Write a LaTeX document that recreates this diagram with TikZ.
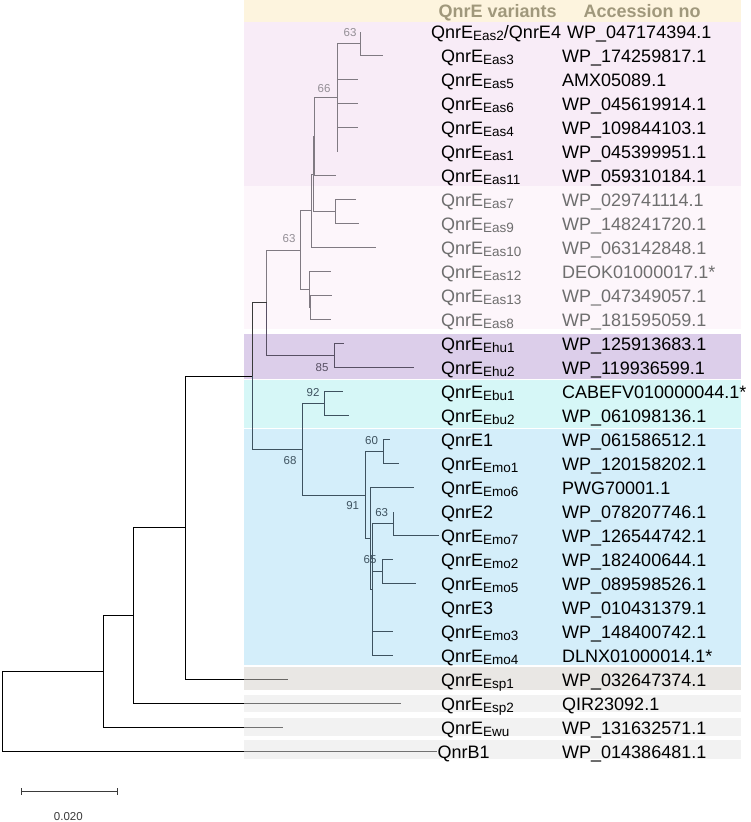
\documentclass[tikz,border=0pt]{standalone}
\usepackage{fontspec}
\setmainfont{Liberation Sans}
\newlength{\du}
\setlength{\du}{1pt}
\newcommand{\sbs}[1]{\raisebox{-2pt}{\fontsize{13.5}{14}\selectfont #1}}
\definecolor{hdrfill}{RGB}{253,244,222}
\definecolor{easfill}{RGB}{248,236,247}
\definecolor{easlight}{RGB}{253,246,251}
\definecolor{ehufill}{RGB}{220,206,234}
\definecolor{ebufill}{RGB}{214,247,247}
\definecolor{emofill}{RGB}{212,238,250}
\definecolor{espover}{RGB}{211,207,201}
\definecolor{outover}{RGB}{229,229,229}
\definecolor{hdrtext}{RGB}{160,152,124}
\definecolor{taxgray}{RGB}{110,110,110}
\definecolor{easline}{RGB}{128,122,130}
\definecolor{ehuline}{RGB}{88,80,100}
\definecolor{emoline}{RGB}{62,82,95}
\definecolor{midline}{RGB}{58,58,58}
\tikzset{
  lbl/.style={anchor=base west, inner sep=0pt, font=\fontsize{18}{20}\selectfont},
  lblgray/.style={lbl, text=taxgray},
  hdr/.style={anchor=base west, inner sep=0pt, text=hdrtext, font=\fontsize{18}{20}\selectfont\bfseries},
  boot/.style={inner sep=0pt, font=\fontsize{11.5}{12}\selectfont},
  br/.style={line width=0.9\du},
  easbr/.style={br, draw=easline},
  ehubr/.style={br, draw=ehuline},
  emobr/.style={br, draw=emoline},
  overband/.style={fill opacity=0.5},
}
\begin{document}
\begin{tikzpicture}
\pgftransformxscale{1.000000}
\pgftransformyscale{-1.000000}
\useasboundingbox (0\du,0\du) rectangle (750\du,822\du);
% bands
\fill[hdrfill] (244\du,0\du) rectangle (741\du,22\du);
\fill[easfill] (244\du,22\du) rectangle (741\du,185.5\du);
\fill[easlight] (244\du,185.5\du) rectangle (741\du,328.5\du);
\fill[ehufill] (244\du,334\du) rectangle (741\du,378.5\du);
\fill[ebufill] (244\du,380\du) rectangle (741\du,428\du);
\fill[emofill] (244\du,429\du) rectangle (741\du,665\du);
% tips
\coordinate (t-eas2) at (360\du,31.5\du);
\coordinate (t-eas3) at (383\du,55.5\du);
\coordinate (t-eas5) at (358\du,79.5\du);
\coordinate (t-eas6) at (358\du,103.5\du);
\coordinate (t-eas4) at (358\du,127.5\du);
\coordinate (t-eas1) at (337\du,151.5\du);
\coordinate (t-eas11) at (336\du,175.5\du);
\coordinate (t-eas7) at (356\du,199.5\du);
\coordinate (t-eas9) at (359\du,223.5\du);
\coordinate (t-eas10) at (376\du,247.5\du);
\coordinate (t-eas12) at (331\du,271.5\du);
\coordinate (t-eas13) at (332\du,295.5\du);
\coordinate (t-eas8) at (331\du,319.5\du);
\coordinate (t-ehu1) at (344\du,343.5\du);
\coordinate (t-ehu2) at (414\du,367.5\du);
\coordinate (t-ebu1) at (343\du,391.5\du);
\coordinate (t-ebu2) at (349\du,415.5\du);
\coordinate (t-e1) at (390\du,439.5\du);
\coordinate (t-emo1) at (399\du,463.5\du);
\coordinate (t-emo6) at (414\du,487.5\du);
\coordinate (t-e2) at (393.3\du,511.5\du);
\coordinate (t-emo7) at (439\du,535.5\du);
\coordinate (t-emo2) at (393\du,559.5\du);
\coordinate (t-emo5) at (416\du,583.5\du);
\coordinate (t-e3) at (372.5\du,607.5\du);
\coordinate (t-emo3) at (393\du,631.5\du);
\coordinate (t-emo4) at (393\du,655.5\du);
\coordinate (t-esp1) at (288\du,679.5\du);
\coordinate (t-esp2) at (401\du,703.5\du);
\coordinate (t-ewu) at (283\du,727.5\du);
\coordinate (t-qnrb1) at (437\du,751.5\du);
% inner nodes
\coordinate (n63a) at (360\du,43.5\du);
\coordinate (n66) at (337\du,97.5\du);
\coordinate (nE) at (314\du,136.5\du);
\coordinate (n79) at (335\du,211.5\du);
\coordinate (nA) at (313\du,174\du);
\coordinate (nC) at (311.7\du,210.75\du);
\coordinate (nG) at (310.5\du,307.5\du);
\coordinate (nF) at (309.3\du,289.5\du);
\coordinate (n63b) at (300.7\du,250.1\du);
\coordinate (n85) at (334.3\du,355.5\du);
\coordinate (nH) at (266.7\du,302.8\du);
\coordinate (n92) at (324.7\du,403.5\du);
\coordinate (n60) at (383.7\du,451.5\du);
\coordinate (n63c) at (393.3\du,523.5\du);
\coordinate (n65) at (382.3\du,571.5\du);
\coordinate (nK) at (372.5\du,589.5\du);
\coordinate (nJ) at (370\du,538.5\du);
\coordinate (n91) at (365.7\du,495\du);
\coordinate (n68) at (302.3\du,449.25\du);
\coordinate (nI) at (252.3\du,376\du);
\coordinate (n185) at (185\du,527.75\du);
\coordinate (n133) at (133\du,615.6\du);
\coordinate (n103) at (103\du,671.6\du);
\coordinate (root) at (2\du,711.5\du);
% Eas clade
\draw[easbr] (n63a) |- (t-eas2);
\draw[easbr] (n63a) |- (t-eas3);
\draw[easbr] (n66) |- (n63a);
\draw[easbr] (n66) |- (t-eas5);
\draw[easbr] (n66) |- (t-eas6);
\draw[easbr] (n66) |- (t-eas4);
\draw[easbr] (n66) |- (t-eas1);
\draw[easbr] (nE) |- (n66);
\draw[easbr] (nE) |- (t-eas11);
\draw[easbr] (n79) |- (t-eas7);
\draw[easbr] (n79) |- (t-eas9);
\draw[easbr] (nA) |- (nE);
\draw[easbr] (nA) |- (n79);
\draw[easbr] (nC) |- (nA);
\draw[easbr] (nC) |- (t-eas10);
\draw[easbr] (nG) |- (t-eas13);
\draw[easbr] (nG) |- (t-eas8);
\draw[easbr] (nF) |- (t-eas12);
\draw[easbr] (nF) |- (nG);
\draw[easbr] (n63b) |- (nC);
\draw[easbr] (n63b) |- (nF);
\draw[easbr] (nH) |- (n63b);
% Ehu clade
\draw[ehubr] (n85) |- (t-ehu1);
\draw[ehubr] (n85) |- (t-ehu2);
\draw[ehubr] (nH) |- (n85);
% Ebu and Emo clades
\draw[emobr] (n92) |- (t-ebu1);
\draw[emobr] (n92) |- (t-ebu2);
\draw[emobr] (n60) |- (t-e1);
\draw[emobr] (n60) |- (t-emo1);
\draw[emobr] (n63c) |- (t-e2);
\draw[emobr] (n63c) |- (t-emo7);
\draw[emobr] (n65) |- (t-emo2);
\draw[emobr] (n65) |- (t-emo5);
\draw[emobr] (nK) |- (n63c);
\draw[emobr] (nK) |- (n65);
\draw[emobr] (nK) |- (t-e3);
\draw[emobr] (nK) |- (t-emo3);
\draw[emobr] (nK) |- (t-emo4);
\draw[emobr] (nJ) |- (t-emo6);
\draw[emobr] (nJ) |- (nK);
\draw[emobr] (n91) |- (n60);
\draw[emobr] (n91) |- (nJ);
\draw[emobr] (n68) |- (n92);
\draw[emobr] (n68) |- (n91);
\draw[emobr] (nI) |- (n68);
\draw[br, draw=midline] (nI) |- (nH);
% backbone
\draw[br] (n185) |- (nI);
\draw[br] (n185) |- (t-esp1);
\draw[br] (n133) |- (n185);
\draw[br] (n133) |- (t-esp2);
\draw[br] (n103) |- (n133);
\draw[br] (n103) |- (t-ewu);
\draw[br] (root) |- (n103);
\draw[br] (root) |- (t-qnrb1);
% outgroup bands, laid over the branches
\fill[espover, overband] (244\du,666.5\du) rectangle (741\du,689.5\du);
\fill[outover, overband] (244\du,694.5\du) rectangle (741\du,712\du);
\fill[outover, overband] (244\du,717.5\du) rectangle (741\du,735.5\du);
\fill[outover, overband] (244\du,740\du) rectangle (741\du,759\du);
% bootstrap values
\node[boot, text=easline!85] (b63a) at (350\du,32.5\du) {63};
\node[boot, text=easline!85] (b66) at (324\du,89\du) {66};
\node[boot, text=easline!85] (b63b) at (289\du,239\du) {63};
\node[boot, text=ehuline] (b85) at (322\du,368\du) {85};
\node[boot, text=emoline] (b92) at (313\du,393\du) {92};
\node[boot, text=emoline] (b68) at (290\du,461\du) {68};
\node[boot, text=emoline] (b60) at (371.5\du,441\du) {60};
\node[boot, text=emoline] (b91) at (352.7\du,506\du) {91};
\node[boot, text=emoline] (b63c) at (381.7\du,513\du) {63};
\node[boot, text=emoline] (b65) at (370\du,560\du) {65};
% header
\node[hdr] (h-var) at (438.3\du,17\du) {QnrE variants};
\node[hdr] (h-acc) at (583.3\du,17\du) {Accession no};
% variants
\node[lbl] (v-eas2) at (431\du,38.5\du) {QnrE\sbs{Eas2}/QnrE4};
\node[lbl] (v-eas3) at (441\du,62.5\du) {QnrE\sbs{Eas3}};
\node[lbl] (v-eas5) at (441\du,86.5\du) {QnrE\sbs{Eas5}};
\node[lbl] (v-eas6) at (441\du,110.5\du) {QnrE\sbs{Eas6}};
\node[lbl] (v-eas4) at (441\du,134.5\du) {QnrE\sbs{Eas4}};
\node[lbl] (v-eas1) at (441\du,158.5\du) {QnrE\sbs{Eas1}};
\node[lbl] (v-eas11) at (441\du,182.5\du) {QnrE\sbs{Eas11}};
\node[lblgray] (v-eas7) at (441\du,206.5\du) {QnrE\sbs{Eas7}};
\node[lblgray] (v-eas9) at (441\du,230.5\du) {QnrE\sbs{Eas9}};
\node[lblgray] (v-eas10) at (441\du,254.5\du) {QnrE\sbs{Eas10}};
\node[lblgray] (v-eas12) at (441\du,278.5\du) {QnrE\sbs{Eas12}};
\node[lblgray] (v-eas13) at (441\du,302.5\du) {QnrE\sbs{Eas13}};
\node[lblgray] (v-eas8) at (441\du,326.5\du) {QnrE\sbs{Eas8}};
\node[lbl] (v-ehu1) at (441\du,350.5\du) {QnrE\sbs{Ehu1}};
\node[lbl] (v-ehu2) at (441\du,374.5\du) {QnrE\sbs{Ehu2}};
\node[lbl] (v-ebu1) at (441\du,398.5\du) {QnrE\sbs{Ebu1}};
\node[lbl] (v-ebu2) at (441\du,422.5\du) {QnrE\sbs{Ebu2}};
\node[lbl] (v-e1) at (441\du,446.5\du) {QnrE1};
\node[lbl] (v-emo1) at (441\du,470.5\du) {QnrE\sbs{Emo1}};
\node[lbl] (v-emo6) at (441\du,494.5\du) {QnrE\sbs{Emo6}};
\node[lbl] (v-e2) at (441\du,518.5\du) {QnrE2};
\node[lbl] (v-emo7) at (441\du,542.5\du) {QnrE\sbs{Emo7}};
\node[lbl] (v-emo2) at (441\du,566.5\du) {QnrE\sbs{Emo2}};
\node[lbl] (v-emo5) at (441\du,590.5\du) {QnrE\sbs{Emo5}};
\node[lbl] (v-e3) at (441\du,614.5\du) {QnrE3};
\node[lbl] (v-emo3) at (441\du,638.5\du) {QnrE\sbs{Emo3}};
\node[lbl] (v-emo4) at (441\du,662.5\du) {QnrE\sbs{Emo4}};
\node[lbl] (v-esp1) at (441\du,686.5\du) {QnrE\sbs{Esp1}};
\node[lbl] (v-esp2) at (441\du,710.5\du) {QnrE\sbs{Esp2}};
\node[lbl] (v-ewu) at (441\du,734.5\du) {QnrE\sbs{Ewu}};
\node[lbl] (v-qnrb1) at (437.5\du,758.5\du) {QnrB1};
% accession numbers
\node[lbl] (a-eas2) at (567\du,38.5\du) {WP\_047174394.1};
\node[lbl] (a-eas3) at (562\du,62.5\du) {WP\_174259817.1};
\node[lbl] (a-eas5) at (562\du,86.5\du) {AMX05089.1};
\node[lbl] (a-eas6) at (562\du,110.5\du) {WP\_045619914.1};
\node[lbl] (a-eas4) at (562\du,134.5\du) {WP\_109844103.1};
\node[lbl] (a-eas1) at (562\du,158.5\du) {WP\_045399951.1};
\node[lbl] (a-eas11) at (562\du,182.5\du) {WP\_059310184.1};
\node[lblgray] (a-eas7) at (562\du,206.5\du) {WP\_029741114.1};
\node[lblgray] (a-eas9) at (562\du,230.5\du) {WP\_148241720.1};
\node[lblgray] (a-eas10) at (562\du,254.5\du) {WP\_063142848.1};
\node[lblgray] (a-eas12) at (562\du,278.5\du) {DEOK01000017.1*};
\node[lblgray] (a-eas13) at (562\du,302.5\du) {WP\_047349057.1};
\node[lblgray] (a-eas8) at (562\du,326.5\du) {WP\_181595059.1};
\node[lbl] (a-ehu1) at (562\du,350.5\du) {WP\_125913683.1};
\node[lbl] (a-ehu2) at (562\du,374.5\du) {WP\_119936599.1};
\node[lbl] (a-ebu1) at (562\du,398.5\du) {CABEFV010000044.1*};
\node[lbl] (a-ebu2) at (562\du,422.5\du) {WP\_061098136.1};
\node[lbl] (a-e1) at (562\du,446.5\du) {WP\_061586512.1};
\node[lbl] (a-emo1) at (562\du,470.5\du) {WP\_120158202.1};
\node[lbl] (a-emo6) at (562\du,494.5\du) {PWG70001.1};
\node[lbl] (a-e2) at (562\du,518.5\du) {WP\_078207746.1};
\node[lbl] (a-emo7) at (562\du,542.5\du) {WP\_126544742.1};
\node[lbl] (a-emo2) at (562\du,566.5\du) {WP\_182400644.1};
\node[lbl] (a-emo5) at (562\du,590.5\du) {WP\_089598526.1};
\node[lbl] (a-e3) at (562\du,614.5\du) {WP\_010431379.1};
\node[lbl] (a-emo3) at (562\du,638.5\du) {WP\_148400742.1};
\node[lbl] (a-emo4) at (562\du,662.5\du) {DLNX01000014.1*};
\node[lbl] (a-esp1) at (562\du,686.5\du) {WP\_032647374.1};
\node[lbl] (a-esp2) at (562\du,710.5\du) {QIR23092.1};
\node[lbl] (a-ewu) at (562\du,734.5\du) {WP\_131632571.1};
\node[lbl] (a-qnrb1) at (562\du,758.5\du) {WP\_014386481.1};
% scale bar
\coordinate (sb-l) at (21\du,791.7\du);
\coordinate (sb-r) at (117.3\du,791.7\du);
\draw[br, draw=midline] (sb-l) -- (sb-r);
\draw[br, draw=midline] ([yshift=-3.5\du]sb-l) -- ([yshift=3.5\du]sb-l);
\draw[br, draw=midline] ([yshift=-3.5\du]sb-r) -- ([yshift=3.5\du]sb-r);
\node[boot, text=midline] (sb-txt) at (68.3\du,816.5\du) {0.020};
\end{tikzpicture}
\end{document}
